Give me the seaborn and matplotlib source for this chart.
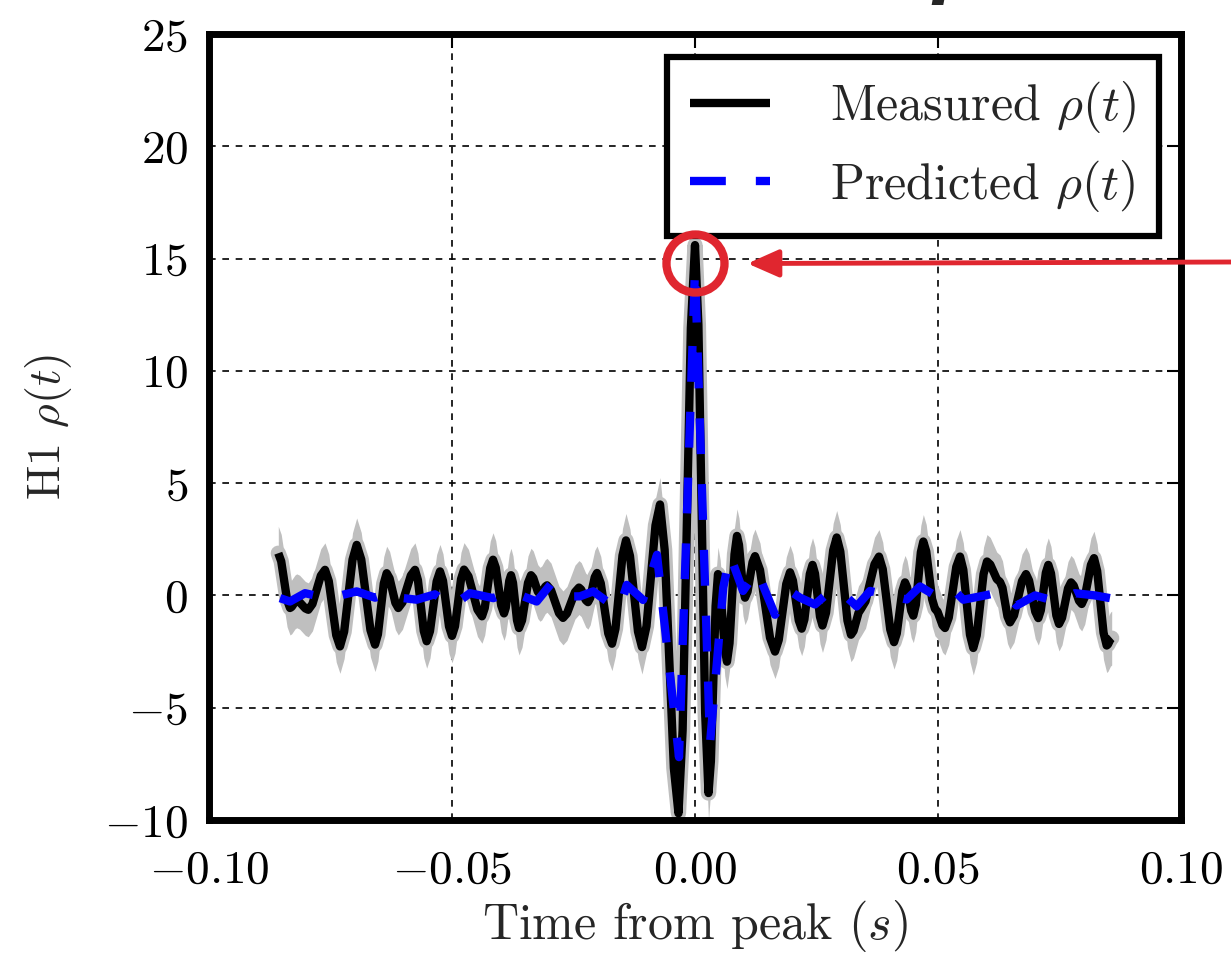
import matplotlib
matplotlib.use("Agg")
import matplotlib.pyplot as plt
from matplotlib.patches import Ellipse
import numpy as np
import seaborn as sns

# ---- data ----
t_meas = [-0.08574, -0.08514, -0.08393, -0.08333, -0.08299, -0.08230, -0.08195, -0.08136,
          -0.08017, -0.07957, -0.07871, -0.07699, -0.07613, -0.07536, -0.07382, -0.07305,
          -0.07219, -0.07047, -0.06961, -0.06867, -0.06678, -0.06584, -0.06524, -0.06404,
          -0.06344, -0.06284, -0.06165, -0.06105, -0.06019, -0.05847, -0.05761, -0.05701,
          -0.05581, -0.05521, -0.05453, -0.05316, -0.05247, -0.05185, -0.05062, -0.05000,
          -0.04938, -0.04815, -0.04753, -0.04661, -0.04476, -0.04383, -0.04326, -0.04213,
          -0.04156, -0.04100, -0.03987, -0.03930, -0.03894, -0.03822, -0.03786, -0.03745,
          -0.03662, -0.03621, -0.03559, -0.03436, -0.03374, -0.03328, -0.03235, -0.03189,
          -0.03153, -0.03081, -0.03045, -0.02963, -0.02798, -0.02716, -0.02634, -0.02469,
          -0.02387, -0.02341, -0.02248, -0.02202, -0.02156, -0.02063, -0.02016, -0.01939,
          -0.01785, -0.01708, -0.01636, -0.01492, -0.01420, -0.01338, -0.01173, -0.01091,
          -0.00998, -0.00813, -0.00720, -0.00625, -0.00435, -0.00340, -0.00255, -0.00085,
          0.00000, 0.00070, 0.00209, 0.00278, 0.00327, 0.00424, 0.00473, 0.00519,
          0.00612, 0.00658, 0.00710, 0.00813, 0.00864, 0.00905, 0.00988, 0.01029,
          0.01081, 0.01184, 0.01235, 0.01338, 0.01543, 0.01646, 0.01723, 0.01878,
          0.01955, 0.02015, 0.02135, 0.02195, 0.02251, 0.02362, 0.02418, 0.02469,
          0.02572, 0.02623, 0.02696, 0.02843, 0.02916, 0.02990, 0.03137, 0.03210,
          0.03262, 0.03365, 0.03416, 0.03509, 0.03694, 0.03786, 0.03863, 0.04018,
          0.04095, 0.04152, 0.04265, 0.04321, 0.04364, 0.04449, 0.04492, 0.04544,
          0.04647, 0.04698, 0.04758, 0.04878, 0.04938, 0.04990, 0.05093, 0.05144,
          0.05221, 0.05376, 0.05453, 0.05521, 0.05658, 0.05726, 0.05797, 0.05937,
          0.06008, 0.06075, 0.06209, 0.06276, 0.06327, 0.06430, 0.06481, 0.06564,
          0.06729, 0.06811, 0.06874, 0.07001, 0.07064, 0.07116, 0.07219, 0.07270,
          0.07325, 0.07435, 0.07490, 0.07552, 0.07675, 0.07737, 0.07792, 0.07902,
          0.07957, 0.08020, 0.08147, 0.08210, 0.08275, 0.08406, 0.08471, 0.08497,
          0.08548, 0.08574]
rho_meas = [1.88, 1.52, -0.20, -0.56, -0.51, -0.29, -0.24, -0.30,
            -0.58, -0.64, -0.38, 0.88, 1.14, 0.64, -1.77, -2.27,
            -1.61, 1.59, 2.25, 1.60, -1.54, -2.19, -1.73, 0.53,
            0.99, 0.76, -0.33, -0.56, -0.31, 0.89, 1.14, 0.68,
            -1.58, -2.04, -1.59, 0.62, 1.07, 0.65, -1.38, -1.80,
            -1.37, 0.72, 1.15, 0.85, -0.63, -0.93, -0.56, 1.22,
            1.59, 1.24, -0.45, -0.80, -0.55, 0.65, 0.90, 0.56,
            -1.11, -1.45, -1.11, 0.56, 0.90, 0.78, 0.17, 0.05,
            0.11, 0.39, 0.45, 0.24, -0.79, -1.00, -0.80, 0.15,
            0.35, 0.26, -0.21, -0.30, -0.11, 0.81, 1.00, 0.54,
            -1.69, -2.15, -1.48, 1.78, 2.45, 1.76, -1.61, -2.30,
            -1.37, 3.12, 4.05, 2.04, -7.69, -9.70, -6.01, 11.91,
            15.60, 12.04, -5.24, -8.80, -7.38, -0.47, 0.95, 0.38,
            -2.38, -2.95, -2.13, 1.83, 2.65, 2.25, 0.30, -0.10,
            0.17, 1.48, 1.75, 1.13, -1.88, -2.50, -1.98, 0.51,
            1.03, 0.66, -1.11, -1.48, -1.07, 0.95, 1.36, 0.97,
            -0.95, -1.34, -0.77, 2.01, 2.58, 1.95, -1.12, -1.75,
            -1.58, -0.77, -0.60, -0.26, 1.39, 1.73, 1.17, -1.52,
            -2.08, -1.69, 0.19, 0.58, 0.36, -0.68, -0.90, -0.42,
            1.92, 2.40, 1.96, -0.16, -0.60, -0.72, -1.33, -1.45,
            -0.99, 1.27, 1.73, 1.14, -1.75, -2.34, -1.78, 0.95,
            1.51, 1.38, 0.73, 0.60, 0.34, -0.94, -1.20, -0.89,
            0.64, 0.95, 0.66, -0.72, -1.01, -0.66, 1.01, 1.36,
            0.98, -0.89, -1.27, -1.00, 0.31, 0.58, 0.44, -0.24,
            -0.38, -0.08, 1.36, 1.66, 1.09, -1.66, -2.23, -2.18,
            -1.95, -1.90]
band_halfwidth = 1.2

t_pred = [-0.08539, -0.08333, -0.08025, -0.07716, -0.07372, -0.06961, -0.06584, -0.06208,
          -0.06002, -0.05726, -0.05350, -0.05006, -0.04630, -0.04150, -0.03807, -0.03257,
          -0.02949, -0.02675, -0.02366, -0.02093, -0.01790, -0.01543, -0.01405, -0.01070,
          -0.00782, -0.00329, 0.0, 0.00309, 0.00582, 0.00720, 0.00988, 0.01276,
          0.01646, 0.01955, 0.02160, 0.02469, 0.02819, 0.03086, 0.03327, 0.03601,
          0.04012, 0.04356, 0.04630, 0.04938, 0.05282, 0.05521, 0.05967, 0.06344,
          0.06619, 0.06996, 0.07442, 0.07819, 0.08230, 0.08539]
rho_pred = [-0.12, -0.27, 0.10, -0.05, -0.04, 0.18, -0.10, 0.18,
            -0.12, -0.19, 0.05, -0.49, 0.10, -0.12, 0.18, -0.27,
            0.55, -0.05, -0.04, 0.18, -0.30, -0.56, 0.47, -0.20,
            1.81, -7.2, 14.56, -6.6, 0.36, 1.8, 0.2, 1.1,
            -0.86, 0.2, -0.1, -0.4, 0.26, 0.0, -0.49, 0.2,
            0.0, -0.18, 0.4, 0.0, 0.33, -0.19, 0.0, 0.18,
            -0.45, 0.0, -0.27, 0.1, 0.0, -0.12]

x_ticks = [-0.10, -0.05, 0.00, 0.05, 0.10]
y_ticks = [-10, -5, 0, 5, 10, 15, 20, 25]
label_meas = r"Measured $\rho(t)$"
label_pred = r"Predicted $\rho(t)$"
x_label = r"Time from peak $(s)$"
y_label = r"H1 $\rho(t)$"

RED = "#e0262f"
GREY = "#bfbfbf"

sns.set_style("white")
plt.rcParams.update({
    "font.family": ["cmr10"],
    "mathtext.fontset": "cm",
    "axes.formatter.use_mathtext": True,
    "axes.unicode_minus": True,
})

W, H = 1231, 957
fig = plt.figure(figsize=(W / 100, H / 100), dpi=100)
ax = fig.add_axes([209 / W, 1 - 820 / H, (1181 - 209) / W, (820 - 34) / H])

tm = np.array(t_meas)
rm = np.array(rho_meas)
ax.fill_between(tm, rm - band_halfwidth, rm + band_halfwidth, color=GREY, lw=0, zorder=1)
sns.lineplot(x=t_meas, y=rho_meas, ax=ax, color=GREY, linewidth=11, legend=False,
             zorder=1.5, solid_joinstyle="round", solid_capstyle="round")
sns.lineplot(x=t_meas, y=rho_meas, ax=ax, color="black", linewidth=6, label=label_meas,
             zorder=2, solid_joinstyle="round", solid_capstyle="butt")
sns.lineplot(x=t_pred, y=rho_pred, ax=ax, color="#0000ff", linewidth=6, label=label_pred,
             linestyle=(0, (4.3, 3.6)), zorder=3, dash_capstyle="butt")

ax.set_xlim(-0.1, 0.1)
ax.set_ylim(-10, 25)
ax.set_xticks(x_ticks)
ax.set_yticks(y_ticks)
ax.grid(True, color="black", linestyle=(0, (4, 4)), linewidth=1.2)
ax.set_axisbelow(True)
ax.tick_params(direction="in", length=10, width=1.5, top=True, right=True,
               labelsize=34, colors="black")
ax.tick_params(axis="x", pad=22)
ax.tick_params(axis="y", pad=15)
for s in ax.spines.values():
    s.set_linewidth(5)
    s.set_color("black")

ax.set_xlabel(x_label, fontsize=36, labelpad=4)
ax.set_ylabel(y_label, fontsize=33, labelpad=22)

leg = ax.legend(loc="upper right", bbox_to_anchor=(0.977, 0.971), fontsize=36,
                frameon=True, fancybox=False, edgecolor="black", framealpha=1,
                borderaxespad=0, handlelength=1.6, handletextpad=1.2,
                labelspacing=0.45, borderpad=0.45)
leg.get_frame().set_linewidth(4.5)
leg.set_zorder(10)

# red highlight circle + arrow
ell = Ellipse((0.0001, 14.78), width=58 / 4860, height=58 / 22.46, fill=False,
              edgecolor=RED, linewidth=6, clip_on=False, zorder=12)
ax.add_patch(ell)
ax.annotate("", xy=(0.0108, 14.78), xycoords="data",
            xytext=(1.0, 1 - 262 / H), textcoords="figure fraction",
            arrowprops=dict(arrowstyle="-|>,head_length=0.95,head_width=0.42",
                            color=RED, lw=3.5, shrinkA=0, shrinkB=0, mutation_scale=20),
            annotation_clip=False, zorder=12)

# cut-off title at the top
fig.text(930 / W, 1 + 9 / H, "ρ(t)", fontsize=48, fontweight="bold", fontstyle="italic",
         family=["DejaVu Sans"], ha="left", va="baseline")

fig.savefig("out.png", dpi=100)
